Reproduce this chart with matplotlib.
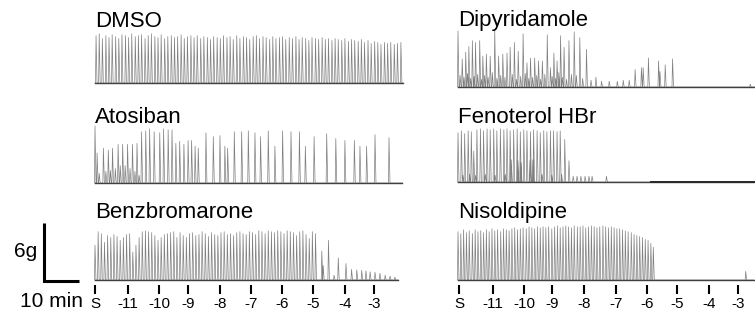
import numpy as np
import matplotlib
matplotlib.use("Agg")
import matplotlib.pyplot as plt

plt.rcParams['font.family'] = ['Liberation Sans', 'DejaVu Sans']

# ---- data (times in min from trace start, amplitudes in g) ----
dmso_t = [0.3, 1.2, 2.1, 3.1, 4.0, 4.9, 5.9, 6.8, 7.7, 8.7,
          9.6, 10.5, 11.5, 12.4, 13.3, 14.3, 15.2, 16.1, 17.1, 18.0,
          18.9, 19.9, 20.8, 21.8, 22.7, 23.6, 24.6, 25.5, 26.4, 27.4,
          28.3, 29.2, 30.2, 31.1, 32.1, 33.0, 33.9, 34.9, 35.8, 36.7,
          37.7, 38.6, 39.5, 40.5, 41.4, 42.4, 43.3, 44.2, 45.2, 46.1,
          47.0, 48.0, 48.9, 49.9, 50.8, 51.7, 52.7, 53.6, 54.5, 55.5,
          56.4, 57.4, 58.3, 59.2, 60.2, 61.1, 62.0, 63.0, 63.9, 64.9,
          65.8, 66.7, 67.7, 68.6, 69.5, 70.5, 71.4, 72.4, 73.3, 74.2,
          75.2, 76.1, 77.0, 78.0, 78.9, 79.9, 80.8, 81.7, 82.7, 83.6,
          84.5, 85.5, 86.4, 87.4]
dmso_h = [4.9, 5.1, 4.6, 4.9, 4.7, 5.0, 4.8, 4.6, 5.0, 4.9,
          4.7, 5.1, 4.8, 4.9, 5.0, 4.6, 4.9, 5.1, 4.8, 4.7,
          5.0, 4.6, 4.8, 4.9, 4.7, 4.8, 5.0, 4.6, 4.8, 4.9,
          4.7, 4.9, 4.6, 4.8, 4.7, 4.5, 4.8, 4.7, 4.6, 4.9,
          4.7, 4.8, 4.5, 4.9, 4.6, 4.8, 4.7, 4.5, 4.8, 4.9,
          4.6, 4.8, 4.7, 4.5, 4.8, 4.6, 4.7, 4.8, 4.5, 4.7,
          4.6, 4.8, 4.5, 4.7, 4.6, 4.4, 4.7, 4.6, 4.5, 4.7,
          4.5, 4.6, 4.4, 4.6, 4.5, 4.4, 4.6, 4.3, 4.5, 4.4,
          4.3, 4.5, 4.2, 4.4, 4.1, 4.3, 4.2, 4.0, 4.2, 4.1,
          4.2, 4.0, 4.1, 4.2]

dipy_t = [0.0, 1.2, 2.2, 3.1, 4.1, 5.0, 6.2, 7.1, 8.1, 9.2,
          10.5, 11.6, 12.8, 14.0, 14.9, 16.1, 17.2, 18.6, 19.7, 20.7,
          21.9, 23.0, 24.1, 25.5, 26.4, 27.4, 28.3, 29.3, 30.3, 31.7,
          32.4, 33.2, 34.8, 36.7, 38.0, 39.4, 41.0, 43.2, 45.5, 47.2,
          48.9, 50.6, 52.4, 52.9, 54.4, 57.3, 57.7, 59.2, 61.3]
dipy_h = [5.8, 2.9, 3.6, 4.2, 4.8, 4.6, 4.8, 3.2, 3.4, 3.2,
          5.9, 3.2, 3.4, 3.5, 4.1, 4.6, 3.7, 5.5, 2.5, 3.0,
          3.0, 2.7, 2.7, 5.4, 2.0, 3.5, 2.7, 5.3, 4.1, 4.8,
          1.3, 5.7, 5.1, 3.9, 0.7, 1.0, 0.6, 0.6, 0.6, 0.7,
          0.7, 1.8, 2.0, 2.0, 3.0, 2.7, 1.6, 2.3, 2.9]
dipy_small_t = [0.6, 1.7, 2.7, 3.6, 4.6, 5.6, 6.7, 7.6, 8.6, 9.8,
                11.1, 12.2, 13.4, 15.5, 16.7, 17.9, 19.2, 20.2, 21.3, 22.5,
                23.6, 24.8, 26.9, 27.9, 28.8, 29.8, 31.0, 33.8, 35.6, 83.5]
dipy_small_h = [1.2, 1.0, 1.4, 0.9, 1.1, 1.3, 0.8, 1.2, 1.0, 1.5,
                0.9, 1.2, 1.0, 1.3, 0.8, 1.1, 1.4, 0.9, 1.0, 1.2,
                0.8, 1.3, 1.1, 0.9, 1.5, 1.0, 0.8, 1.2, 0.9, 0.3]

atos_t = [0.0, 0.6, 2.4, 3.8, 5.0, 6.6, 7.9, 9.3, 10.7, 12.0,
          13.3, 14.5, 15.6, 16.9, 18.5, 19.6, 20.9, 22.0, 23.1, 24.2,
          25.4, 26.6, 27.6, 28.6, 29.5, 31.7, 33.8, 35.7, 37.1, 37.9,
          39.8, 41.9, 43.8, 45.7, 47.3, 49.5, 51.4, 53.6, 56.0, 58.4,
          60.1, 62.6, 66.2, 68.8, 71.4, 74.1, 75.7, 77.6, 80.0, 84.0]
atos_h = [5.9, 3.1, 3.6, 3.4, 3.6, 4.0, 4.0, 4.0, 4.0, 4.1,
          5.3, 5.4, 5.6, 5.3, 5.2, 5.6, 5.5, 5.5, 4.1, 4.3,
          4.0, 4.4, 4.4, 3.8, 3.6, 5.2, 4.8, 4.9, 3.8, 3.6,
          5.3, 5.3, 5.4, 5.2, 4.8, 5.4, 3.8, 5.4, 5.3, 5.3,
          3.8, 4.8, 5.1, 4.6, 4.4, 4.4, 3.8, 3.8, 5.0, 4.7]
atos_small_t = [1.2, 3.1, 4.4, 5.8, 7.2, 8.6, 10.0, 11.4, 12.6]
atos_small_h = [1.0, 1.2, 1.3, 1.5, 1.8, 1.8, 1.5, 1.2, 0.8]

feno_t = [0.0, 0.95, 1.9, 2.9, 3.8, 4.5, 5.4, 6.4, 7.3, 8.3,
          9.2, 10.2, 11.1, 12.1, 13.1, 14.0, 14.9, 15.9, 16.9, 17.8,
          18.8, 19.7, 20.7, 21.6, 22.6, 23.5, 24.5, 25.4, 26.4, 27.3,
          28.3, 29.2, 30.5, 31.7]
feno_h = [5.1, 5.3, 5.0, 5.3, 5.2, 3.2, 5.4, 5.5, 5.3, 5.5,
          5.4, 5.5, 5.3, 5.5, 5.4, 5.5, 5.3, 5.4, 5.5, 5.2,
          5.4, 5.3, 5.2, 5.4, 5.3, 5.1, 5.3, 5.2, 5.3, 5.3,
          5.2, 5.3, 4.4, 2.2]
feno_small_t = [1.4, 3.3, 5.0, 7.8, 10.6, 13.5, 15.2, 17.1, 18.0, 20.6,
                21.4, 24.0, 26.8, 29.6, 32.9, 34.0, 35.1, 36.3, 37.4, 38.3,
                42.4]
feno_small_h = [0.7, 0.8, 0.7, 0.8, 0.7, 0.8, 2.3, 2.2, 2.0, 2.2,
                2.3, 0.8, 0.7, 0.8, 0.6, 0.6, 0.6, 0.6, 0.6, 0.6,
                0.6]
feno_noisy = (55.0, 84.5)   # span where the baseline gets thick/noisy

benz_t = [0.0, 0.9, 1.8, 2.7, 3.6, 4.5, 5.4, 6.3, 7.2, 8.1,
          9.0, 9.9, 10.8, 11.7, 12.6, 13.5, 14.4, 15.3, 16.2, 17.1,
          18.0, 18.9, 19.8, 20.7, 21.6, 22.5, 23.4, 24.3, 25.2, 26.1,
          27.0, 27.9, 28.8, 29.7, 30.6, 31.5, 32.4, 33.3, 34.2, 35.1,
          36.0, 36.9, 37.8, 38.7, 39.6, 40.5, 41.4, 42.3, 43.2, 44.1,
          45.0, 45.9, 46.8, 47.7, 48.6, 49.5, 50.4, 51.3, 52.2, 53.1,
          54.0, 54.9, 55.8, 56.7, 57.6, 58.5, 59.4, 60.3, 61.2, 62.1,
          63.0, 64.8, 66.7, 69.5, 71.7, 73.3, 74.8, 76.2, 77.4, 78.6,
          80.0, 81.4, 82.9, 84.3, 85.7]
benz_h = [3.6, 5.0, 4.8, 3.9, 4.6, 4.4, 4.7, 4.5, 4.1, 4.4,
          4.7, 4.8, 2.9, 3.6, 4.4, 5.0, 5.1, 5.0, 4.9, 4.6,
          4.1, 4.4, 4.7, 4.8, 4.9, 5.0, 4.4, 4.9, 4.6, 4.4,
          4.8, 4.9, 4.6, 4.7, 5.0, 4.8, 4.5, 4.9, 4.7, 4.6,
          4.9, 5.0, 4.7, 4.8, 4.6, 4.9, 5.0, 4.8, 4.7, 5.0,
          4.9, 4.7, 5.1, 5.0, 4.8, 5.1, 5.0, 4.9, 5.1, 5.0,
          4.8, 5.1, 5.0, 4.9, 4.6, 5.0, 5.1, 4.7, 4.3, 5.0,
          4.8, 3.0, 4.1, 2.3, 1.7, 1.1, 1.05, 1.0, 0.95, 0.85,
          0.8, 0.7, 0.5, 0.4, 0.3]
benz_small_t = [65.2, 68.3]
benz_small_h = [1.5, 0.5]

niso_t = [0.0, 0.8, 1.6, 2.4, 3.2, 4.1, 4.9, 5.7, 6.5, 7.3,
          8.1, 8.9, 9.7, 10.5, 11.3, 12.2, 13.0, 13.8, 14.6, 15.4,
          16.2, 17.0, 17.8, 18.6, 19.5, 20.3, 21.1, 21.9, 22.7, 23.5,
          24.3, 25.1, 25.9, 26.8, 27.6, 28.4, 29.2, 30.0, 30.8, 31.6,
          32.4, 33.2, 34.1, 34.9, 35.7, 36.5, 37.3, 38.1, 38.9, 39.7,
          40.5, 41.4, 42.2, 43.0, 43.8, 44.6, 45.4, 46.2, 47.0, 47.8,
          48.6, 49.5, 50.3, 51.1, 51.9, 52.7, 53.5, 54.3, 55.1, 55.8,
          82.2]
niso_h = [5.0, 4.8, 5.2, 4.9, 5.1, 4.8, 5.2, 5.0, 5.1, 4.9,
          5.2, 5.0, 5.3, 5.1, 5.2, 5.0, 5.3, 5.2, 5.1, 5.3,
          5.4, 5.2, 5.3, 5.4, 5.3, 5.5, 5.4, 5.3, 5.5, 5.4,
          5.5, 5.4, 5.5, 5.3, 5.5, 5.6, 5.4, 5.5, 5.6, 5.5,
          5.4, 5.6, 5.5, 5.5, 5.6, 5.4, 5.5, 5.6, 5.5, 5.4,
          5.5, 5.6, 5.5, 5.4, 5.5, 5.4, 5.3, 5.3, 5.2, 5.1,
          5.0, 4.9, 4.7, 4.6, 4.5, 4.4, 4.2, 4.1, 3.8, 3.4,
          0.9]

tick_labels = ['S', '-11', '-10', '-9', '-8', '-7', '-6', '-5', '-4', '-3']
left_ticks = [0.0, 9.4, 18.3, 26.6, 35.7, 44.6, 53.4, 62.3, 71.4, 79.7]
right_ticks = [0.3, 10.0, 18.9, 26.9, 36.0, 45.1, 54.0, 62.6, 71.7, 80.0]

# ---- layout (pixels of the 755x322 output) ----
W, H = 755, 322
PX_MIN = 3.5      # px per minute (10 min bar = 35 px)
PX_G = 58 / 6.0   # px per gram (6 g bar = 58 px)
TRACE_COLOR = '#808080'


def spike_line(times, heights, end):
    order = np.argsort(times)
    xs, ys = [0.0], [0.0]
    for i in order:
        t, h = times[i], heights[i]
        xs += [t - 0.16, t, t + 0.28]
        ys += [0.0, h, 0.0]
    xs.append(end)
    ys.append(0.0)
    return xs, ys


def panel(start_px, right_px, base_px, title, title_px):
    ax = fig.add_axes([(start_px - 5) / W, (H - base_px - 5) / H,
                       (right_px - start_px + 5) / W, 65 / H])
    ax.set_xlim(-5 / PX_MIN, (right_px - start_px) / PX_MIN)
    ax.set_ylim(-5 / PX_G, 60 / PX_G)
    for s in ax.spines.values():
        s.set_visible(False)
    ax.set_yticks([])
    ax.set_xticks([])
    fig.text(start_px / W, 1 - title_px / H, title, fontsize=16,
             ha='left', va='baseline')
    return ax


def draw(ax, t, h, end, small_t=(), small_h=()):
    xs, ys = spike_line(list(t) + list(small_t), list(h) + list(small_h), end)
    ax.plot(xs, ys, color=TRACE_COLOR, lw=0.5)
    ax.plot([0, end], [0.02, 0.02], color='#404040', lw=1.0)


fig = plt.figure(figsize=(W / 100, H / 100), dpi=100)

ax1 = panel(95, 410, 83, 'DMSO', 27)
draw(ax1, dmso_t, dmso_h, 88.0)

ax2 = panel(458, 755, 87, 'Dipyridamole', 26)
draw(ax2, dipy_t, dipy_h, 84.8, dipy_small_t, dipy_small_h)

ax3 = panel(95, 410, 183, 'Atosiban', 123)
draw(ax3, atos_t, atos_h, 87.8, atos_small_t, atos_small_h)

ax4 = panel(458, 755, 182, 'Fenoterol HBr', 123)
draw(ax4, feno_t, feno_h, 84.8, feno_small_t, feno_small_h)
ax4.plot(feno_noisy, [0.05, 0.05], color='#2a2a2a', lw=1.4)

ax5 = panel(95, 410, 280, 'Benzbromarone', 218)
draw(ax5, benz_t, benz_h, 86.6, benz_small_t, benz_small_h)

ax6 = panel(458, 755, 280, 'Nisoldipine', 218)
draw(ax6, niso_t, niso_h, 84.5)

for ax, ticks in [(ax5, left_ticks), (ax6, right_ticks)]:
    ax.set_xticks(ticks, tick_labels)
    ax.tick_params(axis='x', direction='out', length=6.5, width=1.5,
                   pad=2, labelsize=11, colors='black')

# scale bar: 6 g vertical, 10 min horizontal
bx = (44 - 95) / PX_MIN
ax5.plot([bx, bx, bx + 10], [6 - 0.1, -0.1, -0.1], color='black', lw=2.2,
         clip_on=False, solid_joinstyle='miter', solid_capstyle='butt')
ax5.text(bx - 2.0, 2.4, '6g', fontsize=15, ha='right', va='baseline')
fig.text(83 / W, 1 - 307 / H, '10 min', fontsize=15, ha='right', va='baseline')

fig.savefig('out.png', dpi=100)
